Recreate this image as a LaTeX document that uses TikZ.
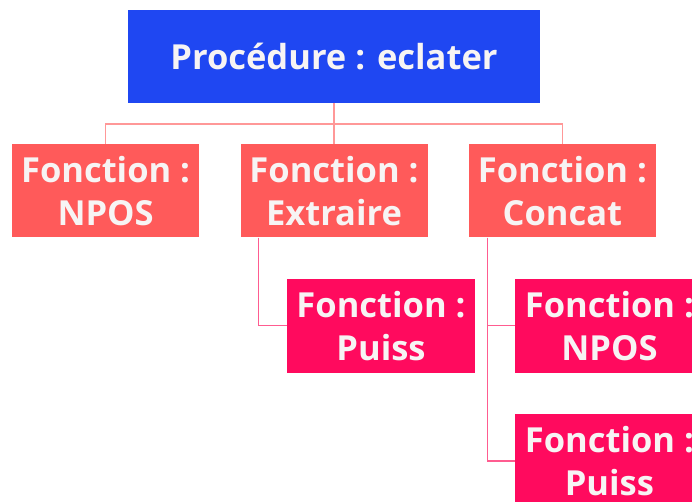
\documentclass[tikz,border=0pt]{standalone}
\usepackage{fontspec}
\setmainfont{Open Sans}
\usepackage{xcolor}
\usepackage{tikz}
\usetikzlibrary{positioning, calc}
\definecolor{rootblue}{HTML}{1F47F2}
\definecolor{funcred}{HTML}{FF5A5A}
\definecolor{subpink}{HTML}{FF0A5E}
\definecolor{linkred}{HTML}{FF9898}
\definecolor{linkpink}{HTML}{FF5C90}
\definecolor{txtwhite}{HTML}{F7F4F4}

\begin{document}
\begin{tikzpicture}[
    x=1pt, y=1pt,
    node distance=41pt,
    proc/.style={rectangle, fill=rootblue, text=txtwhite, minimum width=412pt,
                 minimum height=93pt, font=\fontsize{34.5}{40}\selectfont\bfseries},
    func/.style={rectangle, fill=funcred, text=txtwhite, minimum width=187pt,
                 minimum height=93pt, align=center, inner sep=0pt,
                 font=\fontsize{34.5}{43}\selectfont\bfseries},
    subfunc/.style={func, fill=subpink, minimum width=188pt, minimum height=94pt},
    link/.style={line width=1.4pt, linkred},
    sublink/.style={line width=1.4pt, linkpink},
]
    \useasboundingbox (0,0) rectangle (692,502);
    \clip (0,0) rectangle (692,502);

    % procedure
    \node[proc] (eclater) at (334,445.5) {Procédure : eclater};

    % fonctions
    \node[func, below=41pt of eclater] (extraire) {Fonction :\\Extraire};
    \node[func, left=41pt of extraire] (npos) {Fonction :\\NPOS};
    \node[func, right=41pt of extraire] (concat) {Fonction :\\Concat};

    % sous-fonctions
    \node[subfunc, below=41pt of extraire, xshift=47pt] (puissA) {Fonction :\\Puiss};
    \node[subfunc, below=41pt of concat, xshift=47pt] (nposB) {Fonction :\\NPOS};
    \node[subfunc, below=41pt of nposB] (puissB) {Fonction :\\Puiss};

    % liens
    \coordinate (bus) at ([yshift=-21pt]eclater.south);
    \draw[link] (eclater.south) -- (bus) -| (npos.north);
    \draw[link] (bus) -| (concat.north);
    \draw[link] (bus) -- (extraire.north);
    \draw[sublink] ([xshift=18pt]extraire.south west) |- (puissA.west);
    \draw[sublink] ([xshift=19pt]concat.south west) |- (nposB.west);
    \draw[sublink] ([xshift=19pt]concat.south west) |- (puissB.west);

\end{tikzpicture}
\end{document}
